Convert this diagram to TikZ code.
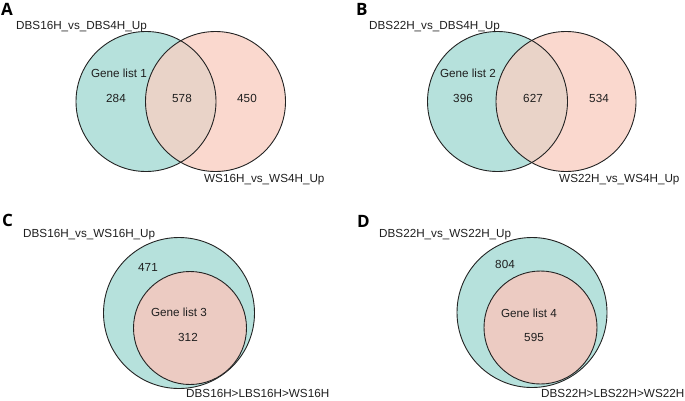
\documentclass[tikz,border=0pt]{standalone}
\usepackage{fontspec}
\setmainfont{Liberation Sans}
\newfontfamily\letterfont{Open Sans}
\newcommand\usc{\char"5F\relax}
\definecolor{tealc}{RGB}{182,225,220}
\definecolor{pinkc}{RGB}{250,216,206}
\definecolor{lapc}{RGB}{233,211,200}
\definecolor{innerc}{RGB}{236,203,194}
\definecolor{linec}{RGB}{35,35,35}
\tikzset{
  vring/.style={circle,draw=linec,line width=0.9pt,inner sep=0pt,outer sep=0pt},
  lbl/.style={inner sep=0pt,font=\fontsize{11.7}{14}\selectfont,text=black!88},
  setname/.style={lbl,anchor=base west},
  panel/.style={inner sep=0pt,anchor=base west,font=\letterfont\bfseries\fontsize{17}{20}\selectfont}
}
\begin{document}
\begin{tikzpicture}[x=1pt,y=-1pt]
\useasboundingbox (0,0) rectangle (685,400);
% ---------- Panel A ----------
\fill[tealc] (146,101.5) circle[radius=70];
\fill[pinkc] (215.5,101.5) circle[radius=70];
\begin{scope}
  \clip (146,101.5) circle[radius=70];
  \fill[lapc] (215.5,101.5) circle[radius=70];
\end{scope}
\node[vring,minimum size=140pt] (a1) at (146,101.5) {};
\node[vring,minimum size=140pt] (a2) at (215.5,101.5) {};
\node[panel] (pa) at (1,15) {A};
\node[setname] (a1n) at (16,29.5) {DBS16H\usc vs\usc DBS4H\usc Up};
\node[setname] (a2n) at (204,182) {WS16H\usc vs\usc WS4H\usc Up};
\node[lbl] (ag) at (119,73) {Gene list 1};
\node[lbl] (ax) at (116,98) {284};
\node[lbl] (ay) at (182,98) {578};
\node[lbl] (az) at (247,98) {450};
% ---------- Panel B ----------
\fill[tealc] (497.5,101.5) circle[radius=70];
\fill[pinkc] (566,101.5) circle[radius=70];
\begin{scope}
  \clip (497.5,101.5) circle[radius=70];
  \fill[lapc] (566,101.5) circle[radius=70];
\end{scope}
\node[vring,minimum size=140pt] (b1) at (497.5,101.5) {};
\node[vring,minimum size=140pt] (b2) at (566,101.5) {};
\node[panel] (pb) at (356,15) {B};
\node[setname] (b1n) at (369,29.5) {DBS22H\usc vs\usc DBS4H\usc Up};
\node[setname] (b2n) at (559,182) {WS22H\usc vs\usc WS4H\usc Up};
\node[lbl] (bg) at (468,73) {Gene list 2};
\node[lbl] (bx) at (463,98) {396};
\node[lbl] (by) at (533,98) {627};
\node[lbl] (bz) at (599,98) {534};
% ---------- Panel C ----------
\node[vring,fill=tealc,minimum size=151pt] (c1) at (179,313) {};
\node[vring,fill=innerc,minimum size=113pt] (c2) at (190,328) {};
\node[panel] (pc) at (2,226) {C};
\node[setname] (c1n) at (23,237.5) {DBS16H\usc vs\usc WS16H\usc Up};
\node[setname] (c2n) at (186,397) {DBS16H>LBS16H>WS16H};
\node[lbl] (cx) at (148,267) {471};
\node[lbl] (cg) at (179,312) {Gene list 3};
\node[lbl] (cy) at (188,337) {312};
% ---------- Panel D ----------
\node[vring,fill=tealc,minimum size=150pt] (d1) at (532,312.5) {};
\node[vring,fill=innerc,minimum size=113pt] (d2) at (540.5,327.5) {};
\node[panel] (pd) at (357,227) {D};
\node[setname] (d1n) at (379,237.5) {DBS22H\usc vs\usc WS22H\usc Up};
\node[setname] (d2n) at (541,397) {DBS22H>LBS22H>WS22H};
\node[lbl] (dx) at (505,264) {804};
\node[lbl] (dg) at (529,313) {Gene list 4};
\node[lbl] (dy) at (534,337) {595};
\end{tikzpicture}
\end{document}
